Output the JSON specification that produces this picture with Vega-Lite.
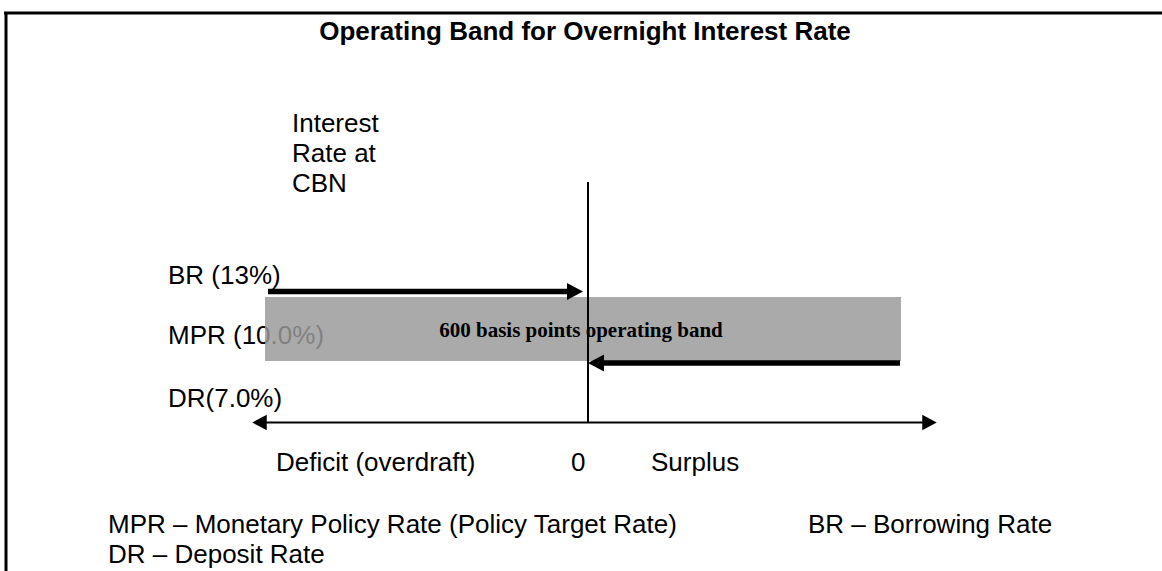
{
  "$schema": "https://vega.github.io/schema/vega-lite/v6.json",
  "width": 1162,
  "height": 571,
  "padding": 0,
  "autosize": {"type": "none"},
  "background": "white",
  "config": {"view": {"stroke": null}},
  "datasets": {
    "lines": [
      {"part": "border", "x": 4, "y": 13, "x2": 1162, "y2": 13},
      {"part": "border", "x": 6, "y": 12, "x2": 6, "y2": 571},
      {"part": "thin", "x": 588, "y": 182, "x2": 588, "y2": 423},
      {"part": "thick", "x": 268, "y": 291.5, "x2": 572, "y2": 291.5},
      {"part": "thick", "x": 600, "y": 363, "x2": 900, "y2": 363},
      {"part": "thin", "x": 260, "y": 422.5, "x2": 930, "y2": 422.5}
    ],
    "heads": [
      {"dir": "right", "kind": "arrow", "x": 575, "y": 291.5},
      {"dir": "left", "kind": "arrow", "x": 596, "y": 363},
      {"dir": "left", "kind": "axis", "x": 259.5, "y": 422.5},
      {"dir": "right", "kind": "axis", "x": 929.5, "y": 422.5}
    ],
    "band": [{"x": 265, "y": 297, "x2": 901, "y2": 361}],
    "labels": [
      {"kind": "title", "text": "Operating Band for Overnight Interest Rate", "x": 585, "y": 40},
      {"kind": "body", "text": "Interest", "x": 292, "y": 132},
      {"kind": "body", "text": "Rate at", "x": 292, "y": 162},
      {"kind": "body", "text": "CBN", "x": 292, "y": 192},
      {"kind": "body", "text": "BR (13%)", "x": 168, "y": 284},
      {"kind": "body", "text": "DR(7.0%)", "x": 168, "y": 407},
      {"kind": "body", "text": "Deficit (overdraft)", "x": 276, "y": 471},
      {"kind": "body", "text": "0", "x": 571, "y": 471},
      {"kind": "body", "text": "Surplus", "x": 651, "y": 471},
      {"kind": "body", "text": "MPR – Monetary Policy Rate (Policy Target Rate)", "x": 108, "y": 533},
      {"kind": "body", "text": "BR – Borrowing Rate", "x": 808, "y": 533},
      {"kind": "body", "text": "DR – Deposit Rate", "x": 108, "y": 563},
      {"kind": "under", "text": "MPR (10.0%)", "x": 168, "y": 344},
      {"kind": "band", "text": "600 basis points operating band", "x": 581, "y": 337}
    ]
  },
  "layer": [
    {
      "data": {"name": "labels"},
      "transform": [{"filter": "datum.kind === 'under'"}],
      "mark": {"type": "text", "align": "left", "baseline": "alphabetic", "font": "Liberation Sans", "fontSize": 26, "color": "black"},
      "encoding": {
        "x": {"field": "x", "type": "quantitative", "scale": {"domain": [0, 1162], "nice": false, "zero": false}, "axis": null},
        "y": {"field": "y", "type": "quantitative", "scale": {"domain": [571, 0], "nice": false, "zero": false}, "axis": null},
        "text": {"field": "text"}
      }
    },
    {
      "data": {"name": "band"},
      "mark": {"type": "rect", "color": "#999999", "opacity": 0.835},
      "encoding": {
        "x": {"field": "x", "type": "quantitative"},
        "x2": {"field": "x2"},
        "y": {"field": "y", "type": "quantitative"},
        "y2": {"field": "y2"}
      }
    },
    {
      "data": {"name": "labels"},
      "transform": [{"filter": "datum.kind === 'band'"}],
      "mark": {"type": "text", "align": "center", "baseline": "alphabetic", "font": "Liberation Serif", "fontWeight": "bold", "fontSize": 21, "color": "black"},
      "encoding": {
        "x": {"field": "x", "type": "quantitative"},
        "y": {"field": "y", "type": "quantitative"},
        "text": {"field": "text"}
      }
    },
    {
      "data": {"name": "lines"},
      "transform": [{"filter": "datum.part === 'border'"}],
      "mark": {"type": "rule", "color": "black", "strokeWidth": 3},
      "encoding": {
        "x": {"field": "x", "type": "quantitative"},
        "x2": {"field": "x2"},
        "y": {"field": "y", "type": "quantitative"},
        "y2": {"field": "y2"}
      }
    },
    {
      "data": {"name": "lines"},
      "transform": [{"filter": "datum.part === 'thin'"}],
      "mark": {"type": "rule", "color": "black", "strokeWidth": 2},
      "encoding": {
        "x": {"field": "x", "type": "quantitative"},
        "x2": {"field": "x2"},
        "y": {"field": "y", "type": "quantitative"},
        "y2": {"field": "y2"}
      }
    },
    {
      "data": {"name": "lines"},
      "transform": [{"filter": "datum.part === 'thick'"}],
      "mark": {"type": "rule", "color": "black", "strokeWidth": 5.5},
      "encoding": {
        "x": {"field": "x", "type": "quantitative"},
        "x2": {"field": "x2"},
        "y": {"field": "y", "type": "quantitative"},
        "y2": {"field": "y2"}
      }
    },
    {
      "data": {"name": "heads"},
      "transform": [{"filter": "datum.kind === 'arrow'"}],
      "mark": {"type": "point", "filled": true, "color": "black", "opacity": 1, "strokeWidth": 0, "size": 289},
      "encoding": {
        "x": {"field": "x", "type": "quantitative"},
        "y": {"field": "y", "type": "quantitative"},
        "shape": {
          "field": "dir", "type": "nominal", "legend": null,
          "scale": {"domain": ["right", "left"], "range": ["M-0.94,-1L0.94,0L-0.94,1Z", "M0.94,-1L-0.94,0L0.94,1Z"]}
        }
      }
    },
    {
      "data": {"name": "heads"},
      "transform": [{"filter": "datum.kind === 'axis'"}],
      "mark": {"type": "point", "filled": true, "color": "black", "opacity": 1, "strokeWidth": 0, "size": 240},
      "encoding": {
        "x": {"field": "x", "type": "quantitative"},
        "y": {"field": "y", "type": "quantitative"},
        "shape": {
          "field": "dir", "type": "nominal", "legend": null,
          "scale": {"domain": ["right", "left"], "range": ["M-0.94,-1L0.94,0L-0.94,1Z", "M0.94,-1L-0.94,0L0.94,1Z"]}
        }
      }
    },
    {
      "data": {"name": "labels"},
      "transform": [{"filter": "datum.kind === 'body'"}],
      "mark": {"type": "text", "align": "left", "baseline": "alphabetic", "font": "Liberation Sans", "fontSize": 26, "color": "black"},
      "encoding": {
        "x": {"field": "x", "type": "quantitative"},
        "y": {"field": "y", "type": "quantitative"},
        "text": {"field": "text"}
      }
    },
    {
      "data": {"name": "labels"},
      "transform": [{"filter": "datum.kind === 'title'"}],
      "mark": {"type": "text", "align": "center", "baseline": "alphabetic", "font": "Liberation Sans", "fontWeight": "bold", "fontSize": 26, "color": "black"},
      "encoding": {
        "x": {"field": "x", "type": "quantitative"},
        "y": {"field": "y", "type": "quantitative"},
        "text": {"field": "text"}
      }
    }
  ]
}
